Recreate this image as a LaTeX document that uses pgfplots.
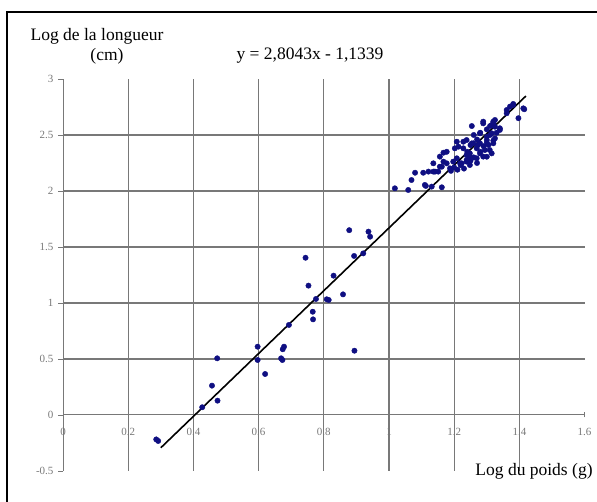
\documentclass[border=0pt]{standalone}
\usepackage{pgfplots}
\pgfplotsset{compat=1.18}
\usepackage{fontspec}
\setmainfont{Liberation Serif}
\definecolor{ptcol}{RGB}{15,15,130}
\definecolor{gridc}{RGB}{120,120,120}
\begin{document}
\begin{tikzpicture}[x=1pt,y=1pt]
\useasboundingbox (0,0) rectangle (597,502);
\draw[line width=1.8pt] (7,0) -- (7,490) -- (597,490);
\begin{axis}[
  at={(63pt,31pt)}, anchor=south west,
  scale only axis, width=521.6pt, height=392pt,
  xmin=0, xmax=1.6, ymin=-0.5, ymax=3,
  axis x line=middle, axis y line=left,
  hide obscured x ticks=false, hide obscured y ticks=false,
  axis line style={-, gridc, line width=1pt},
  xtick={0,0.2,0.4,0.6,0.8,1,1.2,1.4,1.6}, ytick={-0.5,0,0.5,1,1.5,2,2.5,3},
  xticklabels={0,0.2,0.4,0.6,0.8,1,1.2,1.4,1.6},
  yticklabels={-0.5,0,0.5,1,1.5,2,2.5,3},
  tick style={gridc, line width=0.8pt},
  major tick length=5pt,
  ytick align=outside, xtick align=center,
  /pgf/number format/assume math mode=true,
  tick label style={font=\fontsize{11}{12}\selectfont, text=gridc},
  xticklabel style={anchor=north, yshift=-7pt},
  yticklabel style={anchor=east, xshift=-1pt},
  clip=false,
]
% grid lines
\pgfplotsinvokeforeach{0.2,0.4,0.6,0.8,1.0,1.2,1.4}{
  \draw[gridc, line width=1.1pt] (axis cs:#1,-0.5) -- (axis cs:#1,3);
}
\pgfplotsinvokeforeach{0.5,1.0,1.5,2.0,2.5}{
  \draw[gridc, line width=1.1pt] (axis cs:0,#1) -- (axis cs:1.6,#1);
}
\addplot[only marks, mark=*, mark size=2.7pt, color=ptcol] coordinates {
(0.286,-0.218) (0.292,-0.232)
(0.427,0.069) (0.457,0.262) (0.473,0.506) (0.474,0.128)
(0.597,0.610) (0.597,0.491) (0.620,0.366)
(0.669,0.506) (0.673,0.491) (0.674,0.587) (0.678,0.610) (0.693,0.804)
(0.744,1.404) (0.753,1.155) (0.766,0.922) (0.767,0.854) (0.776,1.036)
(0.809,1.033) (0.815,1.027) (0.830,1.244) (0.859,1.077) (0.878,1.650)
(0.893,1.420) (0.894,0.574) (0.921,1.443) (0.937,1.637) (0.942,1.592)
(1.018,2.024) (1.059,2.009) (1.069,2.098) (1.080,2.163) (1.105,2.163)
(1.110,2.054) (1.113,2.045) (1.121,2.173) (1.131,2.039) (1.136,2.173)
(1.136,2.247) (1.141,2.173) (1.151,2.173) (1.156,2.217) (1.156,2.307)
(1.162,2.033) (1.162,2.217) (1.167,2.262) (1.167,2.342) (1.177,2.247)
(1.177,2.350) (1.187,2.202) (1.190,2.180) (1.197,2.262) (1.200,2.210)
(1.202,2.381) (1.208,2.292) (1.208,2.440) (1.210,2.190) (1.213,2.396)
(1.218,2.247) (1.220,2.230) (1.223,2.247) (1.228,2.381) (1.228,2.440)
(1.230,2.200) (1.238,2.262) (1.238,2.277) (1.238,2.321) (1.238,2.455)
(1.240,2.350) (1.248,2.232) (1.248,2.307) (1.248,2.336) (1.250,2.270)
(1.250,2.410) (1.254,2.425) (1.254,2.580) (1.259,2.426) (1.260,2.300)
(1.260,2.500) (1.269,2.292) (1.269,2.381) (1.270,2.250) (1.270,2.460)
(1.273,2.411) (1.279,2.336) (1.279,2.426) (1.279,2.515) (1.280,2.350)
(1.280,2.520) (1.289,2.307) (1.289,2.604) (1.289,2.619) (1.290,2.400)
(1.294,2.366) (1.300,2.306) (1.300,2.430) (1.300,2.455) (1.300,2.485)
(1.300,2.550) (1.305,2.411) (1.309,2.366) (1.310,2.500) (1.310,2.580)
(1.315,2.336) (1.315,2.515) (1.315,2.589) (1.320,2.426) (1.320,2.450)
(1.320,2.604) (1.320,2.620) (1.325,2.470) (1.325,2.574) (1.325,2.634)
(1.330,2.520) (1.340,2.545) (1.340,2.560) (1.361,2.694) (1.361,2.723)
(1.371,2.753) (1.381,2.768) (1.381,2.777) (1.397,2.650) (1.412,2.738)
(1.415,2.730)
};
\addplot[black, line width=1.6pt] coordinates {(0.3,-0.2926) (1.42,2.8482)};
\end{axis}
\node[font=\fontsize{17.5}{20}\selectfont] at (97,466) {Log de la longueur};
\node[font=\fontsize{17.5}{20}\selectfont] at (107,446) {(cm)};
\node[font=\fontsize{17.5}{20}\selectfont] at (310,446) {y = 2,8043x - 1,1339};
\node[font=\fontsize{17.5}{20}\selectfont] at (534,31) {Log du poids (g)};
\end{tikzpicture}
\end{document}
